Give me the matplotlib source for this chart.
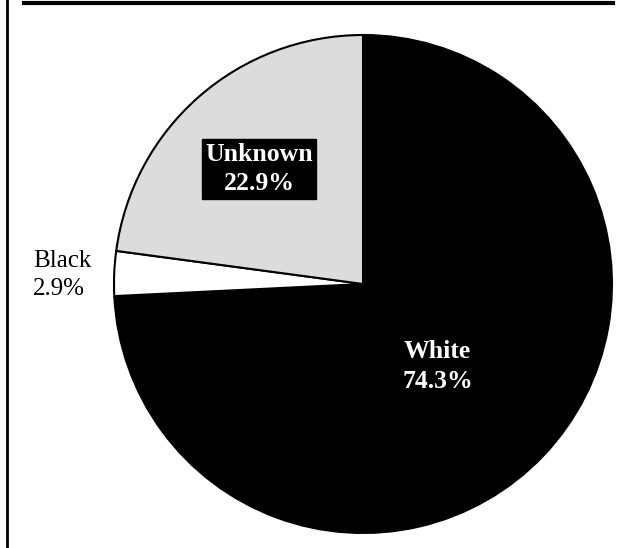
import matplotlib.pyplot as plt
from matplotlib.lines import Line2D

plt.rcParams['font.family'] = ['Liberation Serif', 'DejaVu Serif']

# Daten
categories = ['White', 'Black', 'Unknown']
shares = [74.3, 2.9, 22.9]
colors = ['black', 'white', '#dcdcdc']

fig = plt.figure(figsize=(6.29, 5.48), dpi=100)

# pie axes: centre ~ (363, 284) px, radius ~ 249 px
ax = fig.add_axes([114 / 629, 15 / 548, 498 / 629, 498 / 548])
ax.pie(shares, colors=colors, startangle=90, counterclock=False,
       wedgeprops=dict(edgecolor='black', linewidth=1.5))
ax.set_xlim(-1, 1)
ax.set_ylim(-1, 1)
ax.set_aspect('equal')
ax.axis('off')

# labels
ax.text(0.30, -0.33, f'{categories[0]}\n{shares[0]}%', color='white',
        fontsize=18.5, fontweight='bold', ha='center', va='center',
        linespacing=1.4)
ax.text(-0.418, 0.462, f'{categories[2]}\n{shares[2]}%', color='white',
        fontsize=18.5, fontweight='bold', ha='center', va='center',
        linespacing=1.35,
        bbox=dict(facecolor='black', edgecolor='black', pad=2.5))
ax.text(-1.325, 0.036, f'{categories[1]}\n{shares[1]}%', color='black',
        fontsize=18, ha='left', va='center', linespacing=1.3)

# frame pieces from the surrounding page
fig.add_artist(Line2D([24 / 629, 613 / 629], [1 - 3 / 548, 1 - 3 / 548],
                      color='black', linewidth=3, transform=fig.transFigure))
fig.add_artist(Line2D([7 / 629, 7 / 629], [0, 1], color='black',
                      linewidth=2, transform=fig.transFigure))

fig.savefig('out.png', dpi=100)
